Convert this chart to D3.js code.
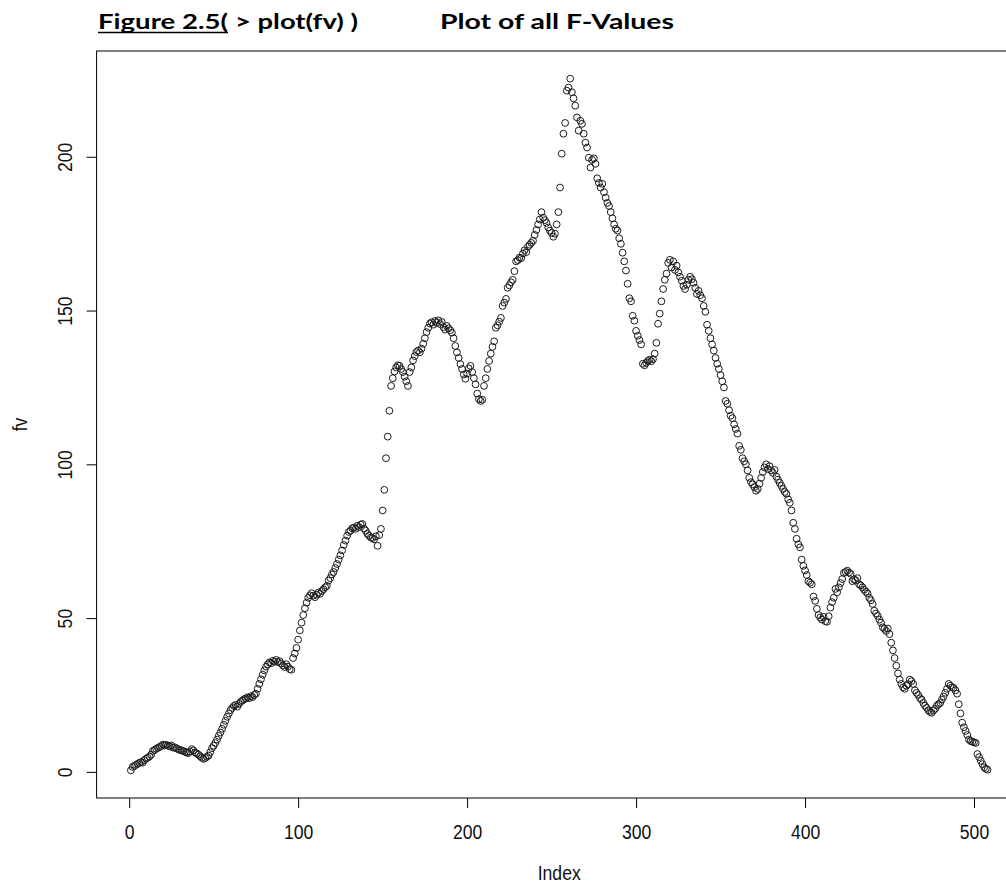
<!DOCTYPE html>
<html>
<head>
<meta charset="utf-8">
<script src="https://cdn.jsdelivr.net/npm/d3@7"></script>
<style>
  body { margin: 0; background: #fff; }
  svg { display: block; }
  .title { font-family: Lato, "Open Sans", sans-serif; font-weight: bold; font-size: 21px; fill: #000; }
  .axis text, .lab { font-family: "Liberation Sans", Arial, sans-serif; font-size: 17.6px; fill: #111; }
</style>
</head>
<body>
<svg id="chart" width="1006" height="886"></svg>
<script>
// fv values, index 1..508
const fv = [
  0.5, 1.6, 1.9, 2.3, 2.6, 2.9, 3.2, 3.0, 3.8, 4.3,
  4.6, 5.0, 5.6, 6.8, 7.1, 7.5, 7.8, 8.1, 8.4, 8.9,
  8.6, 8.8, 8.5, 8.3, 8.6, 7.9, 8.0, 7.6, 7.4, 7.1,
  7.0, 6.8, 6.5, 6.3, 6.1, 6.6, 7.4, 7.0, 6.3, 6.0,
  5.6, 5.1, 4.6, 4.2, 4.5, 4.9, 5.3, 6.4, 7.7, 8.5,
  9.4, 10.5, 11.7, 12.8, 14.0, 15.3, 16.6, 17.9, 19.0, 20.1,
  20.8, 21.4, 21.8, 21.2, 22.1, 22.8, 23.2, 23.6, 23.9, 24.2,
  24.0, 24.6, 24.3, 25.0, 25.4, 27.0, 28.6, 30.1, 31.6, 33.0,
  34.2, 35.0, 35.6, 35.3, 36.1, 35.8, 36.4, 35.7, 36.0, 35.2,
  34.6, 34.1, 35.0, 34.2, 33.4, 33.2, 37.0, 38.5, 40.3, 43.0,
  46.0, 48.5, 51.0, 53.2, 55.0, 56.6, 57.4, 58.1, 57.3, 56.8,
  57.6, 58.3, 57.9, 58.8, 59.4, 60.0, 60.5, 62.2, 63.0, 64.2,
  65.0, 66.3, 67.6, 69.0, 70.4, 72.0, 73.8, 75.2, 76.8, 78.0,
  78.4, 79.2, 79.4, 79.0, 80.0, 79.6, 80.4, 80.6, 79.1, 78.4,
  77.4, 76.8, 76.2, 76.0, 75.6, 76.6, 73.5, 77.0, 79.0, 85.0,
  91.7, 102.0, 109.0, 117.4, 125.5, 128.0, 130.2, 131.5, 132.2, 132.0,
  131.0, 130.0, 128.5, 127.0, 125.5, 130.0, 131.5, 133.8, 135.2, 136.5,
  137.0, 136.4, 137.6, 139.2, 141.0, 143.0, 144.4, 145.8, 146.2, 145.4,
  146.6, 146.0, 146.8, 145.6, 146.3, 144.6, 143.8, 145.0, 144.2, 143.6,
  142.8, 141.0, 138.5, 136.4, 134.6, 132.6, 131.0, 129.2, 127.8, 129.5,
  131.2, 132.0, 130.0, 128.0, 126.0, 123.0, 121.2, 120.6, 121.0, 125.5,
  128.0, 131.0, 133.6, 136.0, 138.2, 140.0, 144.4, 145.2, 146.4, 147.6,
  151.5, 152.6, 153.8, 157.4, 158.2, 159.2, 160.0, 162.8, 166.0, 166.4,
  167.2, 167.0, 168.5, 169.6, 169.0, 170.8, 171.4, 172.0, 172.7, 174.6,
  176.2, 178.0, 179.6, 182.0, 180.2, 179.4, 178.5, 177.0, 176.0, 175.2,
  174.0, 175.0, 178.0, 182.0, 190.0, 201.0, 207.5, 211.0, 221.5, 222.5,
  225.4, 221.0, 219.0, 216.6, 212.8, 208.5, 211.7, 210.7, 207.5, 204.6,
  203.0, 199.7, 196.5, 199.0, 199.5, 197.7, 193.0, 191.5, 190.0, 191.2,
  188.5, 186.7, 185.0, 184.0, 182.0, 180.0, 178.0, 176.6, 176.0, 173.5,
  171.7, 168.8, 166.0, 163.0, 158.7, 154.0, 153.0, 148.3, 146.7, 143.4,
  141.8, 140.4, 139.0, 132.7, 132.2, 133.0, 133.6, 134.0, 133.5, 134.2,
  136.0, 139.5, 145.7, 149.0, 153.0, 157.0, 160.0, 162.0, 165.5, 166.5,
  164.0, 166.0, 163.2, 164.6, 162.4, 161.0, 159.7, 158.0, 157.0, 158.4,
  160.0, 161.0, 160.2, 159.0, 157.4, 155.4, 156.4, 155.0, 154.0, 151.5,
  149.6, 145.4, 143.4, 141.0, 139.0, 137.0, 134.6, 132.7, 131.0, 129.0,
  127.0, 125.0, 120.6, 119.7, 117.6, 115.8, 115.0, 113.0, 111.5, 110.0,
  106.0, 104.7, 102.0, 101.0, 100.0, 98.0, 95.6, 94.2, 93.5, 92.6,
  91.4, 92.0, 93.7, 95.6, 97.5, 99.0, 100.0, 98.5, 99.4, 98.0,
  97.2, 98.2, 96.0, 95.0, 94.0, 93.0, 92.0, 91.0, 90.4, 88.6,
  87.5, 85.0, 81.0, 79.0, 75.8, 74.0, 73.0, 69.0, 67.0, 65.5,
  64.0, 62.0, 61.5, 61.0, 57.0, 55.6, 53.0, 51.0, 50.2, 49.5,
  50.4, 49.0, 48.8, 50.6, 53.4, 55.2, 56.6, 59.5, 58.4, 60.0,
  61.4, 62.7, 64.7, 65.0, 65.4, 64.8, 64.4, 62.0, 62.6, 62.2,
  63.0, 61.0, 60.6, 60.0, 59.2, 58.6, 58.0, 56.6, 55.8, 54.6,
  52.4, 51.5, 50.7, 49.5, 48.5, 47.0, 46.5, 45.8, 46.6, 44.8,
  42.0, 39.5, 37.0, 34.5, 32.0, 30.0, 28.6, 27.5, 27.0, 28.0,
  28.5, 30.0, 29.5, 28.6, 26.5, 25.7, 25.0, 24.0, 23.5, 22.4,
  21.5, 20.8, 20.0, 19.5, 19.2, 20.0, 20.5, 21.5, 22.0, 22.4,
  23.5, 24.5, 25.7, 27.0, 28.6, 28.0, 27.5, 27.3, 26.5, 25.4,
  22.0, 19.0, 16.0, 14.5, 13.3, 12.0, 10.5, 10.0, 9.8, 9.6,
  9.4, 5.8, 4.8, 3.6, 2.5, 1.5, 1.0, 0.7
];

const xTicks = [0, 100, 200, 300, 400, 500];
const yTicks = [0, 50, 100, 150, 200];
const xLabel = 'Index';
const yLabel = 'fv';

const svg = d3.select('#chart');

// plot region (right edge runs past the picture, as in the reference)
const plot = { left: 96.6, right: 1021.8, top: 51, bottom: 798 };

// R style ranges: data range widened by 4% on each side
const pad = (ext) => { const r = ext[1] - ext[0]; return [ext[0] - 0.04 * r, ext[1] + 0.04 * r]; };

const points = fv.map((v, i) => ({ index: i + 1, value: v }));

const x = d3.scaleLinear()
    .domain(pad([1, fv.length]))
    .range([plot.left, plot.right]);

const y = d3.scaleLinear()
    .domain(pad(d3.extent(fv)))
    .range([plot.bottom, plot.top]);

// title
svg.append('text').attr('class', 'title')
    .attr('x', 98).attr('y', 29)
    .attr('textLength', 130).attr('lengthAdjust', 'spacingAndGlyphs')
    .text('Figure 2.5(');
svg.append('line')
    .attr('x1', 98).attr('x2', 228).attr('y1', 32.5).attr('y2', 32.5)
    .attr('stroke', '#000').attr('stroke-width', 1.4);
svg.append('text').attr('class', 'title')
    .attr('x', 235).attr('y', 29)
    .attr('textLength', 123).attr('lengthAdjust', 'spacingAndGlyphs')
    .text('> plot(fv) )');
svg.append('text').attr('class', 'title')
    .attr('x', 440).attr('y', 29)
    .attr('textLength', 234).attr('lengthAdjust', 'spacingAndGlyphs')
    .text('Plot of all F-Values');

// box
svg.append('rect')
    .attr('x', plot.left).attr('y', plot.top)
    .attr('width', plot.right - plot.left).attr('height', plot.bottom - plot.top)
    .attr('fill', 'none').attr('stroke', '#000').attr('stroke-width', 1);

// axes
const xAxisG = svg.append('g').attr('class', 'axis')
    .attr('transform', `translate(0,${plot.bottom})`)
    .call(d3.axisBottom(x).tickValues(xTicks).tickSize(10).tickSizeOuter(0));

const yAxisG = svg.append('g').attr('class', 'axis')
    .attr('transform', `translate(${plot.left},0)`)
    .call(d3.axisLeft(y).tickValues(yTicks).tickSize(10).tickSizeOuter(0));

svg.selectAll('.axis .domain').remove();
svg.selectAll('.axis line').attr('stroke', '#000');

// R's labels here are a bit taller than the font, stretch them
xAxisG.selectAll('text')
    .attr('x', null).attr('y', null).attr('dy', null)
    .attr('transform', 'translate(0,41) scale(1,1.17)')
    .attr('text-anchor', 'middle');

yAxisG.selectAll('text')
    .attr('x', null).attr('y', null).attr('dy', null)
    .attr('transform', 'translate(-25,0) rotate(-90) scale(1,1.17)')
    .attr('text-anchor', 'middle');

svg.append('text').attr('class', 'lab')
    .attr('text-anchor', 'middle')
    .attr('transform', `translate(${(plot.left + plot.right) / 2},880) scale(1,1.15)`)
    .text(xLabel);

svg.append('text').attr('class', 'lab')
    .attr('text-anchor', 'middle')
    .attr('transform', `translate(27,${(plot.top + plot.bottom) / 2}) rotate(-90) scale(1,1.17)`)
    .text(yLabel);

// points (pch = 1)
svg.append('g')
    .selectAll('circle')
    .data(points)
    .join('circle')
        .attr('cx', d => x(d.index))
        .attr('cy', d => y(d.value))
        .attr('r', 3.4)
        .attr('fill', 'none')
        .attr('stroke', '#1a1a1a')
        .attr('stroke-width', 1);
</script>
</body>
</html>
